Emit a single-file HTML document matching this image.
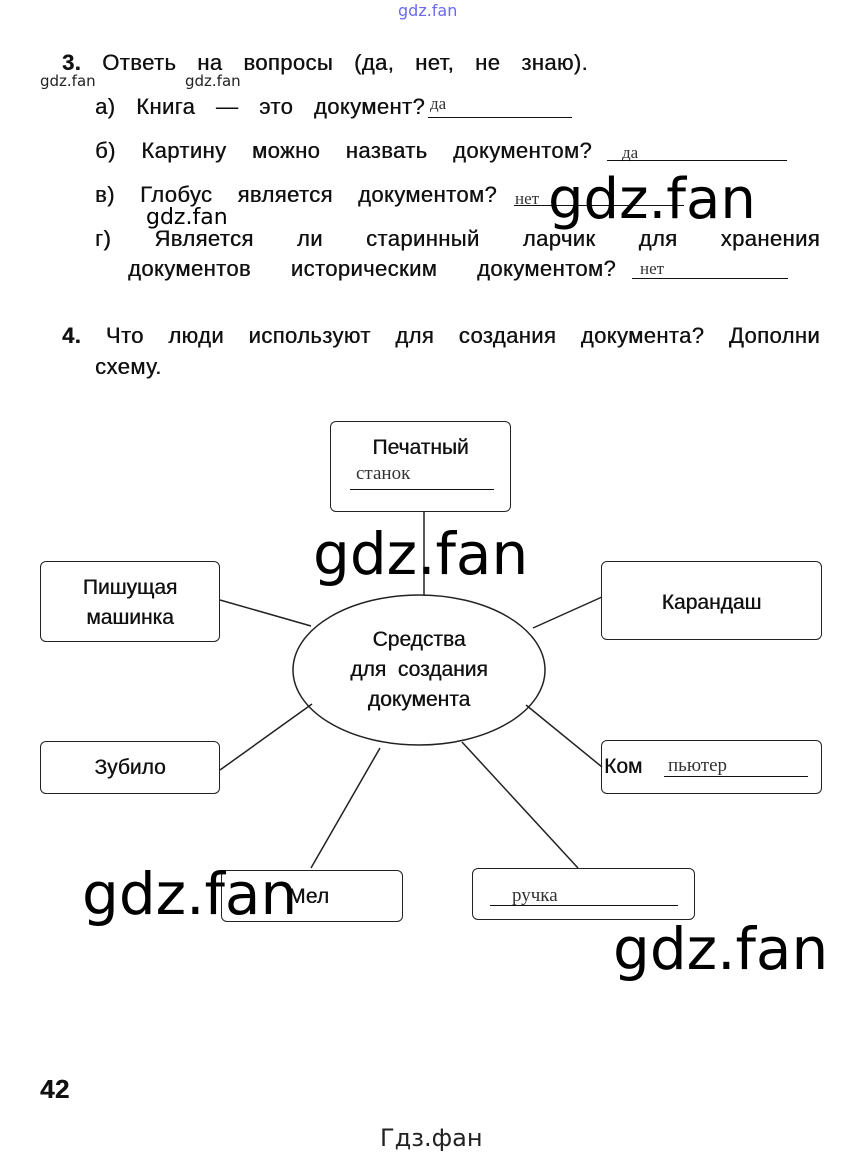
<!DOCTYPE html>
<html><head><meta charset="utf-8"><style>
body{margin:0;width:863px;height:1158px;background:#fff;position:relative;overflow:hidden;font-family:"Liberation Sans","DejaVu Sans",sans-serif;color:#111}
.t{position:absolute;white-space:nowrap;font-size:22px;line-height:22px;letter-spacing:0.4px;text-align:justify;text-align-last:justify;text-shadow:0.4px 0 0 #111}
.h{position:absolute;white-space:nowrap;font-family:"Liberation Serif",serif;font-size:17px;color:#333}
.w{position:absolute;white-space:nowrap;font-family:"DejaVu Sans",sans-serif;color:#000;line-height:1}
.u{position:absolute;height:0;border-top:1.5px solid #111}
.b{position:absolute;border:1.5px solid #222;border-radius:6px;box-sizing:border-box}
.c{position:absolute;text-align:center;font-size:21px;line-height:30px;white-space:nowrap;text-shadow:0.4px 0 0 #111}
</style></head><body>
<div class="w" style="left:398px;top:3px;font-size:16px;color:#6a6af0">gdz.fan</div>

<div class="t" style="left:62px;top:52px;width:526px"><b>3.</b> Ответь на вопросы (да, нет, не знаю).</div>
<div class="w" style="left:40px;top:74px;font-size:15px;color:#222">gdz.fan</div>
<div class="w" style="left:185px;top:74px;font-size:15px;color:#222">gdz.fan</div>

<div class="t" style="left:95px;top:96px;width:330px">а) Книга — это документ?</div>
<div class="h" style="left:430px;top:94px">да</div><div class="u" style="left:428px;top:117px;width:144px"></div>

<div class="t" style="left:95px;top:140px;width:497px">б) Картину можно назвать документом?</div>
<div class="h" style="left:622px;top:143px">да</div><div class="u" style="left:607px;top:160px;width:180px"></div>

<div class="t" style="left:95px;top:184px;width:402px">в) Глобус является документом?</div>
<div class="h" style="left:515px;top:189px">нет</div><div class="u" style="left:514px;top:205px;width:170px"></div>
<div class="w" style="left:548px;top:172px;font-size:56px">gdz.fan</div>
<div class="w" style="left:146px;top:207px;font-size:22px">gdz.fan</div>

<div class="t" style="left:95px;top:228px;width:725px">г) Является ли старинный ларчик для хранения</div>
<div class="t" style="left:128px;top:258px;width:488px">документов историческим документом?</div>
<div class="h" style="left:640px;top:259px">нет</div><div class="u" style="left:632px;top:278px;width:156px"></div>

<div class="t" style="left:62px;top:325px;width:758px"><b>4.</b> Что люди используют для создания документа? Дополни</div>
<div class="t" style="left:95px;top:356px;text-align:left;text-align-last:left">схему.</div>

<svg style="position:absolute;left:0;top:0" width="863" height="1158">
<g stroke="#222" stroke-width="1.5" fill="none">
<line x1="424" y1="512" x2="424" y2="595"/>
<line x1="220" y1="600" x2="311" y2="626"/>
<line x1="602" y1="597" x2="533" y2="628"/>
<line x1="220" y1="770" x2="312" y2="704"/>
<line x1="602" y1="767" x2="526" y2="705"/>
<line x1="311" y1="868" x2="380" y2="748"/>
<line x1="578" y1="868" x2="462" y2="742"/>
<ellipse cx="419" cy="670" rx="126" ry="75"/>
</g></svg>

<div class="b" style="left:330px;top:421px;width:181px;height:91px"></div>
<div class="c" style="left:330px;top:433px;width:181px">Печатный</div>
<div class="h" style="left:356px;top:463px;font-size:19px">станок</div>
<div class="u" style="left:350px;top:489px;width:144px"></div>

<div class="b" style="left:40px;top:561px;width:180px;height:81px"></div>
<div class="c" style="left:40px;top:573px;width:180px">Пишущая<br>машинка</div>

<div class="b" style="left:601px;top:561px;width:221px;height:79px"></div>
<div class="c" style="left:601px;top:588px;width:221px">Карандаш</div>

<div class="c" style="left:294px;top:625px;width:250px">Средства<br>для&nbsp; создания<br>документа</div>

<div class="b" style="left:40px;top:741px;width:180px;height:53px"></div>
<div class="c" style="left:40px;top:753px;width:180px">Зубило</div>

<div class="b" style="left:601px;top:740px;width:221px;height:54px"></div>
<div class="c" style="left:604px;top:752px;text-align:left">Ком</div>
<div class="h" style="left:668px;top:755px;font-size:19px">пьютер</div>
<div class="u" style="left:664px;top:776px;width:144px"></div>

<div class="b" style="left:221px;top:870px;width:182px;height:52px"></div>
<div class="c" style="left:288px;top:882px;text-align:left">Мел</div>

<div class="b" style="left:472px;top:868px;width:223px;height:52px"></div>
<div class="h" style="left:512px;top:885px;font-size:19px">ручка</div>
<div class="u" style="left:490px;top:905px;width:188px"></div>

<div class="w" style="left:313px;top:525px;font-size:58px">gdz.fan</div>
<div class="w" style="left:82px;top:865px;font-size:58px">gdz.fan</div>
<div class="w" style="left:613px;top:920px;font-size:58px">gdz.fan</div>

<div class="t" style="left:40px;top:1076px;font-size:26px;line-height:26px;text-align:left;text-align-last:left"><b>42</b></div>
<div class="w" style="left:380px;top:1126px;font-size:24px;color:#222">Гдз.фан</div>
</body></html>
